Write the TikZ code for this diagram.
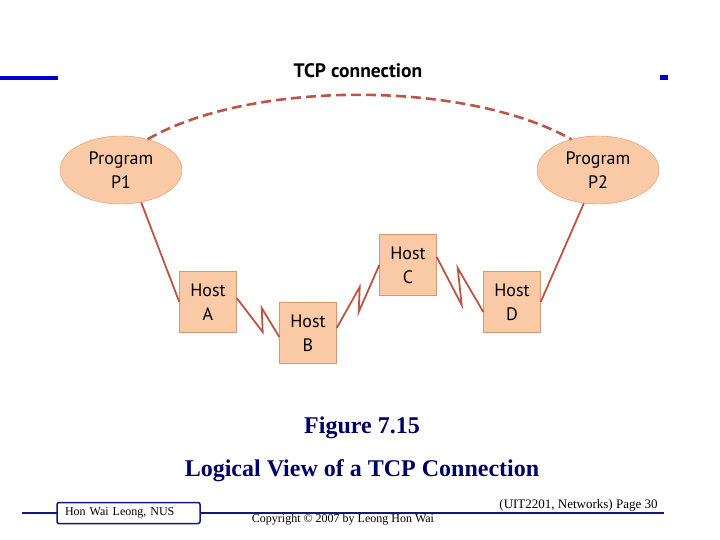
\documentclass[tikz,border=0pt]{standalone}
\usepackage{fontspec}
\setmainfont{Liberation Serif}
\newfontfamily\figfont{PT Sans}
\usetikzlibrary{shapes.geometric,positioning}

\definecolor{peach}{RGB}{250,202,166}
\definecolor{peachedge}{RGB}{214,150,112}
\definecolor{linkred}{RGB}{190,84,70}
\definecolor{slideblue}{RGB}{0,0,204}
\definecolor{footblue}{RGB}{20,20,130}
\definecolor{navy}{RGB}{0,0,102}

\begin{document}
\begin{tikzpicture}[x=1pt,y=-1pt,
    prog/.style={ellipse,draw=peachedge,fill=peach,minimum width=122pt,minimum height=68pt,
        inner sep=0pt,align=center,font=\figfont\fontsize{18}{24}\selectfont},
    host/.style={rectangle,draw=peachedge,fill=peach,minimum width=57pt,minimum height=61pt,
        inner sep=0pt,align=center,font=\figfont\fontsize{18}{24}\selectfont},
    link/.style={draw=linkred,line width=1.8pt},
    foot/.style={font=\fontsize{12}{14}\selectfont}]
    \useasboundingbox (0,0) rectangle (720,540);
    % slide decoration
    \fill[slideblue] (0,76) rectangle (58,80);
    \fill[slideblue] (660,75) rectangle (668,80);
    \node[font=\figfont\bfseries\fontsize{19.5}{22}\selectfont] (title) at (358,71) {TCP connection};
    % programs and hosts
    \node[prog] (p1) at (121,170) {Program\\P1};
    \node[prog] (p2) at (598,170) {Program\\P2};
    \node[host] (hA) at (208,302) {Host\\A};
    \node[host] (hB) at (308,333) {Host\\B};
    \node[host] (hC) at (408,265) {Host\\C};
    \node[host] (hD) at (512,302) {Host\\D};
    \draw[link,line width=2.6pt,dash pattern=on 10pt off 5pt]
        (p1.49) .. controls (250,80) and (466,80) .. (p2.131);
    \draw[link] (p1.-58) -- (hA.west);
    \draw[link] (p2.-113) -- (hD.east);
    \draw[link] ([yshift=4pt]hA.east) -- ++(26,34) -- ++(-1,-24) -- ([yshift=-4pt]hB.west);
    \draw[link] ([yshift=5pt]hB.east) -- ++(23,-41) -- ++(-1,25) -- (hC.west);
    \draw[link] ([yshift=8pt]hC.east) -- ++(25,48) -- ++(-4,-37) -- ([yshift=-10pt]hD.west);
    % captions
    \node[font=\bfseries\fontsize{24}{28}\selectfont,text=navy] (figno) at (362,428) {Figure 7.15};
    \node[font=\bfseries\fontsize{24}{28}\selectfont,text=navy] (caption) at (362,471) {Logical View of a TCP Connection};
    % footer
    \draw[footblue,line width=2.5pt] (22,513) -- (664,513);
    \node[foot,draw=footblue,line width=1.5pt,rounded corners=2pt,fill=white,minimum width=143pt,
        minimum height=21pt,text width=127pt,inner xsep=8pt,align=left] (author) at (128.5,513) {Hon Wai Leong, NUS};
    \node[foot] (copy) at (343,520) {Copyright \textcopyright{} 2007 by Leong Hon Wai};
    \node[foot,font=\fontsize{13}{15}\selectfont] (page) at (578.5,505) {(UIT2201, Networks) Page 30};
\end{tikzpicture}
\end{document}
